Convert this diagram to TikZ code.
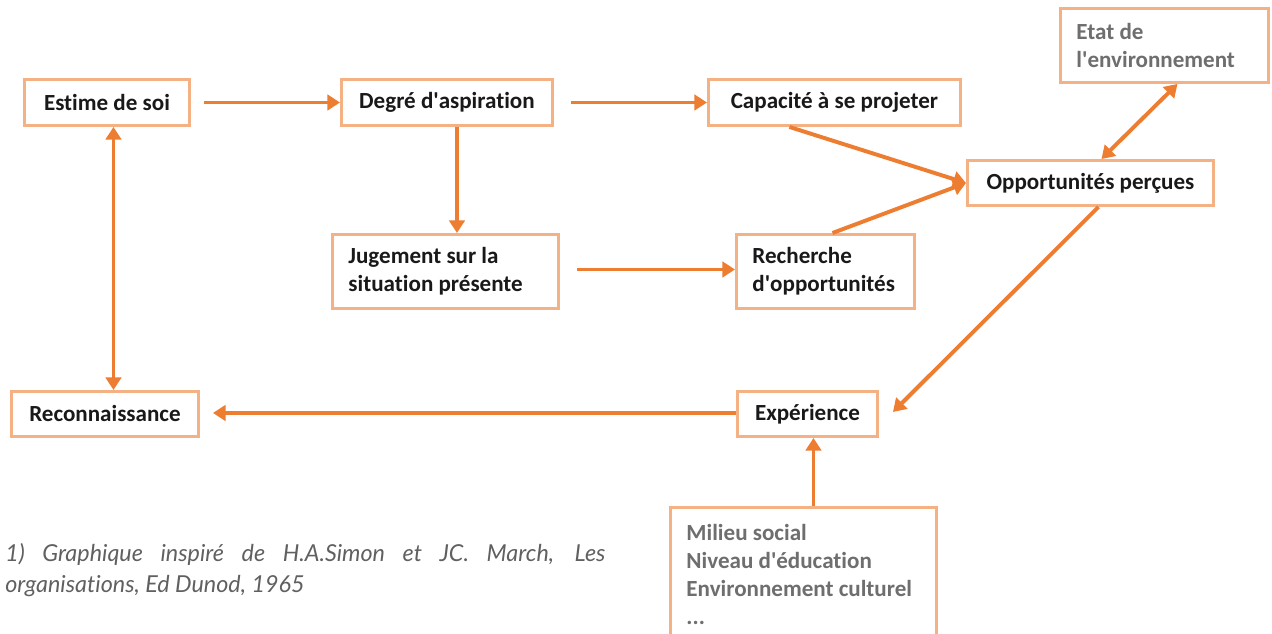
\documentclass[tikz,border=0pt]{standalone}
\usepackage{fontspec}
\setmainfont{Carlito}[Ligatures={NoCommon}]
\newfontfamily\notefont{Lato}[Ligatures={NoCommon}]
\usetikzlibrary{arrows.meta,calc}
\def\pxu{0.025cm}
\def\aps{\textquotesingle}
\definecolor{arrorange}{HTML}{ED7D31}
\definecolor{boxorange}{HTML}{F4B183}
\definecolor{txtgrey}{HTML}{6E6E6E}
\definecolor{notegrey}{HTML}{606060}
\tikzset{
  boxbase/.style={draw=boxorange, line width=2.1pt, fill=white, anchor=north west,
    font=\bfseries\fontsize{16.4}{19.9}\selectfont, text=black!90, inner sep=0pt},
  cbox/.style={boxbase, align=center},
  lbox/.style={boxbase, align=flush left, inner xsep=16*\pxu},
  arr/.style={draw=arrorange, line width=2.8pt, -{Triangle[length=9pt,width=11pt]}},
  darr/.style={draw=arrorange, line width=2.8pt, {Triangle[length=9pt,width=11pt]}-{Triangle[length=9pt,width=11pt]}},
}
\begin{document}
\begin{tikzpicture}[x=0.025cm,y=-0.025cm]
\useasboundingbox (0,0) rectangle (1272,633);
% nodes
\node[cbox, minimum width=165*\pxu, minimum height=46*\pxu] (estime) at (23,78) {Estime de soi};
\node[cbox, minimum width=211*\pxu, minimum height=46*\pxu] (degre) at (340,78) {Degré d\aps aspiration};
\node[cbox, minimum width=252*\pxu, minimum height=46*\pxu] (capa) at (707,78) {Capacité à se projeter};
\node[lbox, text width=176*\pxu, minimum height=74*\pxu, text=txtgrey] (etat) at (1059,7) {Etat de\\l\aps environnement};
\node[cbox, minimum width=246*\pxu, minimum height=45*\pxu] (opp) at (966,159) {Opportunités perçues};
\node[lbox, text width=194*\pxu, minimum height=74*\pxu] (jug) at (331,233) {Jugement sur la\\situation présente};
\node[lbox, text width=146*\pxu, minimum height=74*\pxu] (rech) at (735,233) {Recherche\\d\aps opportunités};
\node[cbox, minimum width=187*\pxu, minimum height=45*\pxu] (reco) at (10,390) {Reconnaissance};
\node[cbox, minimum width=140*\pxu, minimum height=45*\pxu] (exp) at (736,390) {Expérience};
\node[lbox, text width=234*\pxu, minimum height=134*\pxu, text=txtgrey] (mil) at (669,506) {Milieu social\\Niveau d\aps éducation\\Environnement culturel\\...};
% footnote
\node[anchor=north west, inner sep=0pt, text width=600*\pxu, align=justify,
  font=\notefont\itshape\fontsize{16.6}{22}\selectfont, text=notegrey] (note) at (5,543)
  {1) Graphique inspiré de H.A.Simon et JC. March, Les\linebreak organisations, Ed Dunod, 1965};
% connectors
\draw[arr, shorten <=13*\pxu] (estime.east) -- (degre.west);
\draw[arr, shorten <=17*\pxu] (degre.east) -- (capa.west);
\draw[arr] ($(degre.south)+(10,0)$) coordinate (d1) -- (d1 |- jug.north);
\draw[arr, shorten <=17*\pxu] ($(jug.east)+(0,-2)$) -- ($(rech.west)+(0,-2)$);
\draw[arr] ($(capa.south)+(-45,0)$) -- (opp.west);
\draw[arr] ($(rech.north)+(7,0)$) -- (opp.west);
\draw[darr] ($(opp.north)+(11,0)$) -- ($(etat.south)+(13,0)$);
\draw[arr] ($(opp.south)+(8,0)$) -- ($(exp.east)+(14,-2)$);
\draw[darr] ($(estime.south)+(6.5,0)$) coordinate (e1) -- (e1 |- reco.north);
\draw[arr, shorten >=13*\pxu] ($(exp.west)+(0,-1)$) -- ($(reco.east)+(0,-1)$);
\draw[arr] ($(mil.north)+(10,0)$) coordinate (m1) -- (m1 |- exp.south);
\end{tikzpicture}
\end{document}
